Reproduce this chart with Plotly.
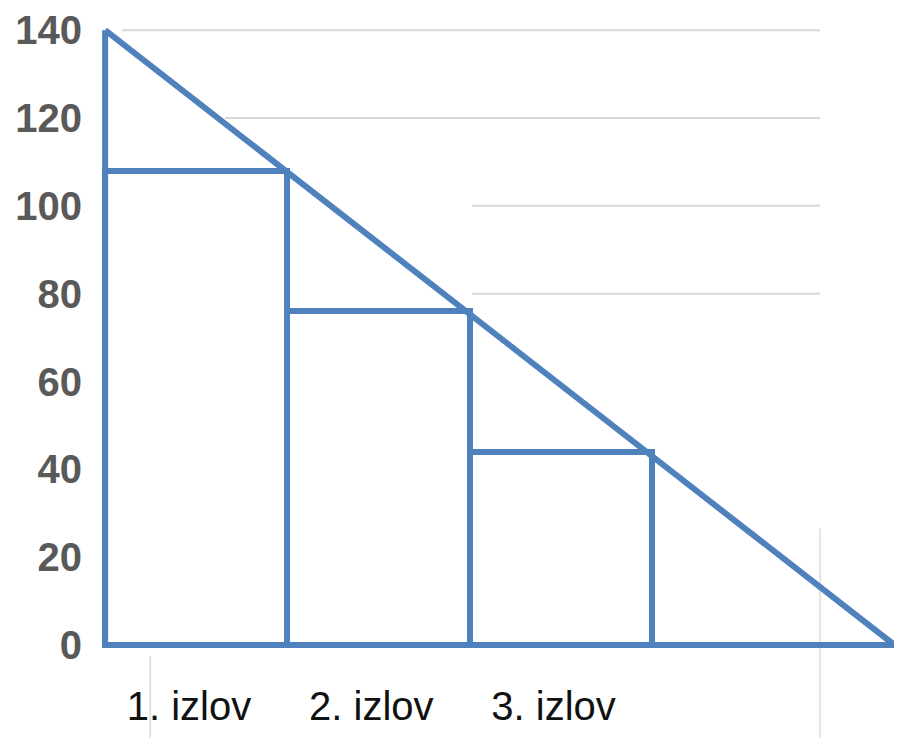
import plotly.graph_objects as go

# Data
categories = ["1. izlov", "2. izlov", "3. izlov"]
bar_positions = [0, 1, 2]
bar_values = [108, 76, 44]
triangle_x = [-0.5, 3.83, -0.5, -0.5]
triangle_y = [140, 0, 0, 140]
y_ticks = [0, 20, 40, 60, 80, 100, 120, 140]

BLUE = "#4f81bd"
GRID = "#d9d9d9"
LABEL_SHIFT = -0.04  # category labels sit slightly left of the bar centres

fig = go.Figure()

fig.add_trace(go.Bar(
    x=bar_positions, y=bar_values, width=1,
    marker=dict(color="white", line=dict(color=BLUE, width=6)),
    showlegend=False, hoverinfo="skip",
))
fig.add_trace(go.Scatter(
    x=triangle_x, y=triangle_y, mode="lines",
    line=dict(color=BLUE, width=6), showlegend=False, hoverinfo="skip",
))

# partial gridlines as seen in the reference
grid_spans = {140: (-0.407, 3.422), 120: (0.158, 3.422), 100: (1.513, 3.422), 80: (1.513, 3.422)}
shapes = []
for yv, (xa, xb) in grid_spans.items():
    shapes.append(dict(type="line", xref="x", yref="y", x0=xa, x1=xb, y0=yv, y1=yv,
                       line=dict(color=GRID, width=2), layer="below"))
# faint vertical lines
shapes.append(dict(type="line", xref="x", yref="paper", x0=-0.253, x1=-0.253, y0=-0.15, y1=0.0,
                   line=dict(color="#e3e3e3", width=2), layer="below"))
shapes.append(dict(type="line", xref="x", yref="paper", x0=3.422, x1=3.422, y0=-0.15, y1=0.2,
                   line=dict(color="#e3e3e3", width=2), layer="below"))

fig.update_layout(
    width=902, height=738,
    margin=dict(l=88, r=0, t=9, b=90),
    paper_bgcolor="white", plot_bgcolor="white",
    shapes=shapes,
    bargap=0,
    xaxis=dict(range=[-0.55, 3.915], tickvals=[p + LABEL_SHIFT for p in bar_positions],
               ticktext=categories,
               showgrid=False, zeroline=False, showline=False, ticks="", automargin=False,
               tickfont=dict(family="Liberation Sans, Arial", size=40, color="#111111"),
               ticklabelstandoff=23, ticklabeloverflow="allow"),
    yaxis=dict(range=[-2.5, 143], tickvals=y_ticks, showgrid=False, zeroline=False,
               showline=False, ticks="", automargin=False,
               tickfont=dict(family="Liberation Sans, Arial", size=40, color="#595959", weight="bold"),
               ticklabelstandoff=13, ticklabeloverflow="allow"),
)

fig.write_html("out.html")
